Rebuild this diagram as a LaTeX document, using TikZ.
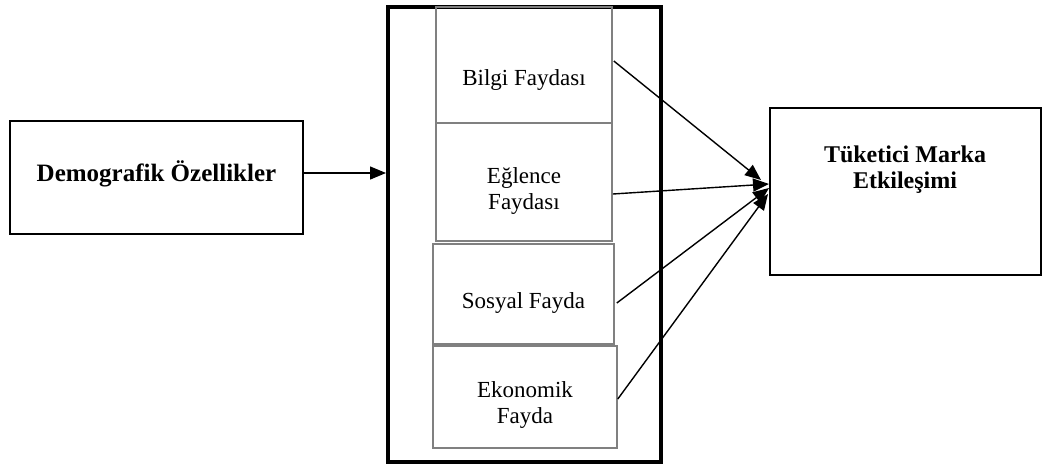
\documentclass[tikz,border=0pt]{standalone}
\usepackage{fontspec}
\setmainfont{Liberation Serif}
\usetikzlibrary{arrows.meta}
\begin{document}
\begin{tikzpicture}[x=0.5pt,y=-0.5pt,
  box/.style={draw=black,line width=1pt,inner sep=0pt},
  gbox/.style={draw=black!50,line width=0.8pt,inner sep=0pt},
  ltext/.style={inner sep=0pt,font=\fontsize{11.5}{13}\selectfont,align=center},
  txt/.style={inner sep=0pt,font=\fontsize{12}{13}\selectfont\bfseries,align=center},
  arr/.style={line width=0.7pt,-{Triangle[length=8pt,width=6.5pt]}}]
\useasboundingbox (0,0) rectangle (1047,466);
\node[box,minimum width=146.5pt,minimum height=56.5pt] (demo) at (156.5,177) {};
\node[txt,font=\fontsize{12.5}{13}\selectfont\bfseries] (demotext) at (156.5,174) {Demografik Özellikler};
\node[draw=black,line width=2pt,inner sep=0pt,minimum width=136.5pt,minimum height=227.5pt] (outer) at (524.5,234.5) {};
\node[gbox,minimum width=88pt,minimum height=58pt] (bilgi) at (524,65) {};
\node[gbox,minimum width=88pt,minimum height=59pt] (eglence) at (524,182) {};
\node[gbox,minimum width=90.5pt,minimum height=50pt] (sosyal) at (523.5,294) {};
\node[gbox,minimum width=92pt,minimum height=51pt] (ekonomik) at (525,397) {};
\node[ltext] (bilgitext) at (524,80) {Bilgi Faydası};
\node[ltext] (eglencetext) at (524,191) {Eğlence\\Faydası};
\node[ltext] (sosyaltext) at (523.5,303) {Sosyal Fayda};
\node[ltext] (ekonomiktext) at (525,405) {Ekonomik\\Fayda};
\node[box,minimum width=135.5pt,minimum height=83.5pt] (tme) at (905,191) {};
\node[txt] (tmetext) at (905,170) {Tüketici Marka\\Etkileşimi};
\coordinate (t1) at (761,180);
\coordinate (t2) at (769,184);
\coordinate (t3) at (769,188);
\coordinate (t4) at (768,194);
\draw[arr] ([yshift=2pt]demo.east) -- ([yshift=2pt]demo.east -| outer.west);
\draw[arr] ([shift={(1,-4)}]bilgi.east) -- (t1);
\draw[arr] ([shift={(0,12)}]eglence.east) -- (t2);
\draw[arr] ([shift={(2,9)}]sosyal.east) -- (t3);
\draw[arr] ([shift={(0,2)}]ekonomik.east) -- (t4);
\end{tikzpicture}
\end{document}
